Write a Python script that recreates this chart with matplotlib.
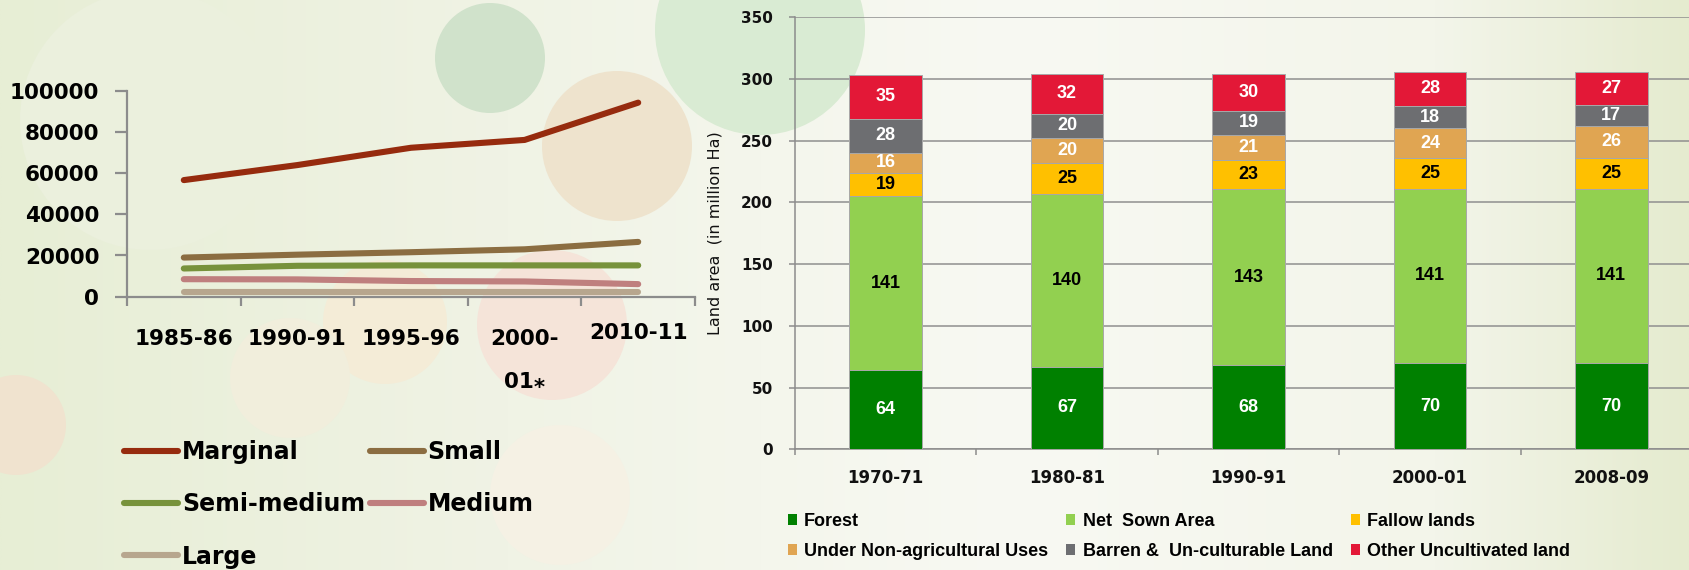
import numpy as np
import matplotlib
matplotlib.use('Agg')
import matplotlib.pyplot as plt
from matplotlib.patches import Circle, Patch
from matplotlib.transforms import ScaledTranslation

# ---------------- Data: left chart (number of holdings) ----------------
periods_left = ['1985-86', '1990-91', '1995-96', '2000-\n01\u204e', '2010-11']
marginal = [56600, 63900, 72300, 76100, 94200]
small = [19000, 20400, 21600, 23000, 26600]
semi_medium = [13700, 15000, 15200, 15200, 15200]
medium = [8500, 8400, 7600, 7400, 6100]
large = [2100, 2100, 2100, 2100, 2100]
left_series_names = ['Marginal', 'Small', 'Semi-medium', 'Medium', 'Large']
left_yticks = [0, 20000, 40000, 60000, 80000, 100000]

# ---------------- Data: right chart (land use, million Ha) ----------------
periods_right = ['1970-71', '1980-81', '1990-91', '2000-01', '2008-09']
forest = [64, 67, 68, 70, 70]
net_sown = [141, 140, 143, 141, 141]
fallow = [19, 25, 23, 25, 25]
non_agri = [16, 20, 21, 24, 26]
barren = [28, 20, 19, 18, 17]
other_uncult = [35, 32, 30, 28, 27]
right_series_names = ['Forest', 'Net  Sown Area', 'Fallow lands',
                      'Under Non-agricultural Uses', 'Barren &  Un-culturable Land',
                      'Other Uncultivated land']
right_yticks = [0, 50, 100, 150, 200, 250, 300, 350]

# ---------------- Figure & background ----------------
W, H = 1690, 570
fig = plt.figure(figsize=(W / 100, H / 100), dpi=100)

bg = fig.add_axes([0, 0, 1, 1], zorder=-10)
stops_x = [0.0, 0.30, 0.60, 0.85, 1.0]
stops_c = [(0xE7, 0xEE, 0xD5), (0xF0, 0xF3, 0xE5), (0xF8, 0xF9, 0xF3),
           (0xF3, 0xF5, 0xEA), (0xE5, 0xEB, 0xCF)]
xs = np.linspace(0, 1, 400)
grad = np.zeros((2, 400, 3))
for ch in range(3):
    grad[:, :, ch] = np.interp(xs, stops_x, [c[ch] / 255 for c in stops_c])
bg.imshow(grad, extent=[0, W, H, 0], aspect='auto', interpolation='bilinear')
deco = [
    (150, 120, 130, '#EBF0DD'),
    (760, 30, 105, '#D9EBD3'),
    (490, 58, 55, '#D0E2CB'),
    (617, 146, 75, '#EEE3CD'),
    (560, 495, 70, '#F5F1E4'),
    (552, 325, 75, '#F5E4D9'),
    (385, 322, 62, '#F4ECD7'),
    (290, 378, 60, '#F1EEDC'),
    (16, 425, 50, '#F0E3CF'),
]
for cx, cy, r, c in deco:
    bg.add_patch(Circle((cx, cy), r, facecolor=c, edgecolor='none'))
bg.set_xlim(0, W)
bg.set_ylim(H, 0)
bg.axis('off')

GRAY = '#8C8C8C'

# ---------------- Left chart ----------------
axL = fig.add_axes([127 / W, 1 - 296.7 / H, 568 / W, (296.7 - 90.7) / H])
axL.patch.set_alpha(0)
left_colors = ['#962B0E', '#8B6D41', '#77923B', '#BF7F7E', '#B7A68E']
left_data = [marginal, small, semi_medium, medium, large]
xl = np.arange(len(periods_left))
handles = []
for vals, col, name in zip(left_data, left_colors, left_series_names):
    ln, = axL.plot(xl, vals, color=col, lw=4.4, solid_capstyle='round',
                   solid_joinstyle='round', label=name)
    handles.append(ln)
axL.set_xlim(-0.5, len(periods_left) - 0.5)
axL.set_ylim(0, 100000)
axL.set_yticks(left_yticks)
axL.set_yticklabels([str(v) for v in left_yticks])
axL.set_xticks(np.arange(-0.5, len(periods_left), 1.0))
axL.set_xticklabels([])
axL.set_xticks(xl, minor=True)
axL.set_xticklabels(periods_left, minor=True)
for s in ['top', 'right']:
    axL.spines[s].set_visible(False)
for s in ['left', 'bottom']:
    axL.spines[s].set_color(GRAY)
    axL.spines[s].set_linewidth(1.6)
axL.tick_params(axis='y', which='major', length=8.4, width=1.6, color=GRAY,
                pad=11.5, labelsize=15.5)
axL.tick_params(axis='x', which='major', length=6.5, width=1.6, color=GRAY)
axL.tick_params(axis='x', which='minor', length=0, pad=23, labelsize=15.5)
for lbl in axL.get_yticklabels() + axL.get_xticklabels(minor=True):
    lbl.set_fontfamily('DejaVu Sans')
    lbl.set_fontweight('bold')
    lbl.set_color('black')
minor_labels = axL.get_xticklabels(minor=True)
minor_labels[3].set_linespacing(2.45)
minor_labels[-1].set_transform(minor_labels[-1].get_transform()
                               + ScaledTranslation(0, 6 / 100, fig.dpi_scale_trans))

order = [0, 2, 4, 1, 3]
fig.legend([handles[i] for i in order], [left_series_names[i] for i in order],
           ncol=2, loc='upper left', bbox_to_anchor=(124 / W, 1 - 440 / H),
           frameon=False, borderpad=0, borderaxespad=0,
           handlelength=2.3, handletextpad=0.15, columnspacing=0.2,
           labelspacing=1.2,
           prop={'family': 'DejaVu Sans', 'weight': 'bold', 'size': 17})

# ---------------- Right chart ----------------
axR = fig.add_axes([795 / W, 1 - 449.3 / H, 907 / W, 432 / H])
axR.patch.set_alpha(0)
right_data = [forest, net_sown, fallow, non_agri, barren, other_uncult]
right_colors = ['#008000', '#92D050', '#FFC000', '#E0A552', '#6D6E71', '#E31837']
label_colors = ['white', 'black', 'black', 'white', 'white', 'white']
xr = np.arange(len(periods_right))
bottom = np.zeros(len(periods_right))
patches = []
for vals, col, lc, name in zip(right_data, right_colors, label_colors, right_series_names):
    vals = np.array(vals, dtype=float)
    cont = axR.bar(xr, vals, width=0.4, bottom=bottom, color=col,
                   edgecolor='#A8A8A8', linewidth=0.7, label=name, zorder=3)
    axR.bar_label(cont, labels=[str(int(v)) for v in vals], label_type='center',
                  color=lc, fontsize=13, fontweight='bold', family='Liberation Sans',
                  zorder=4)
    bottom += vals
    patches.append(Patch(facecolor=col, edgecolor='none', label=name))

axR.set_xlim(-0.5, len(periods_right) - 0.5)
axR.set_ylim(0, 350)
axR.set_yticks(right_yticks)
axR.yaxis.grid(True, color='#8F8F8F', linewidth=1.1, zorder=0)
axR.set_axisbelow(True)
axR.set_xticks(np.arange(-0.5, len(periods_right), 1.0))
axR.set_xticklabels([])
axR.set_xticks(xr, minor=True)
axR.set_xticklabels(periods_right, minor=True)
for s in ['top', 'right']:
    axR.spines[s].set_visible(False)
for s in ['left', 'bottom']:
    axR.spines[s].set_color(GRAY)
    axR.spines[s].set_linewidth(1.1)
axR.tick_params(axis='y', which='major', length=4.3, width=1.1, color=GRAY,
                pad=11.5, labelsize=11)
axR.tick_params(axis='x', which='major', length=4.3, width=1.1, color=GRAY)
axR.tick_params(axis='x', which='minor', length=0, pad=14.5, labelsize=12)
for lbl in axR.get_yticklabels() + axR.get_xticklabels(minor=True):
    lbl.set_fontfamily('DejaVu Sans')
    lbl.set_fontweight('bold')
    lbl.set_color('#111111')
axR.set_ylabel('Land area  (in million Ha)', fontsize=11.5, family='DejaVu Sans',
               color='#111111')
axR.yaxis.set_label_coords((723 - 795) / 907, 0.5)

orderR = [0, 3, 1, 4, 2, 5]
fig.legend([patches[i] for i in orderR], [right_series_names[i] for i in orderR],
           ncol=3, loc='upper left', bbox_to_anchor=(788 / W, 1 - 513 / H),
           frameon=False, borderpad=0, borderaxespad=0,
           handlelength=0.5, handleheight=0.5, handletextpad=0.4,
           columnspacing=1.0, labelspacing=0.72,
           prop={'family': 'Liberation Sans', 'weight': 'bold', 'size': 13})

fig.savefig('out.png', dpi=100)
